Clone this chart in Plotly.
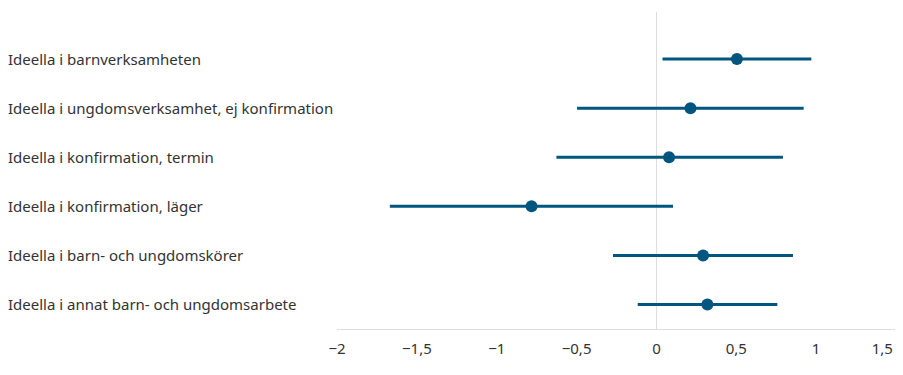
import plotly.graph_objects as go

categories = [
    "Ideella i barnverksamheten",
    "Ideella i ungdomsverksamhet, ej konfirmation",
    "Ideella i konfirmation, termin",
    "Ideella i konfirmation, läger",
    "Ideella i barn- och ungdomskörer",
    "Ideella i annat barn- och ungdomsarbete",
]
estimate = [0.504, 0.213, 0.079, -0.782, 0.292, 0.319]
ci_low = [0.038, -0.497, -0.626, -1.669, -0.272, -0.117]
ci_high = [0.970, 0.922, 0.792, 0.104, 0.855, 0.757]

tick_vals = [-2, -1.5, -1, -0.5, 0, 0.5, 1, 1.5]
tick_text = ["−2", "−1,5", "−1", "−0,5", "0", "0,5", "1", "1,5" + "\u00a0" * 7]

blue = "#00567f"
font = "Noto Sans, Open Sans, sans-serif"

fig = go.Figure()

fig.add_trace(
    go.Scatter(
        x=estimate,
        y=categories,
        mode="markers",
        marker=dict(size=12, color=blue),
        error_x=dict(
            type="data",
            symmetric=False,
            array=[h - e for h, e in zip(ci_high, estimate)],
            arrayminus=[e - l for e, l in zip(estimate, ci_low)],
            color=blue,
            thickness=3,
            width=0,
        ),
        showlegend=False,
    )
)

# kategorinamn vänsterställda längst till vänster
for cat in categories:
    fig.add_annotation(
        x=-331 / 559.5,
        xref="paper",
        y=cat,
        yref="y",
        text=cat,
        showarrow=False,
        xanchor="left",
        font=dict(size=15, color="#333333", family=font),
    )

fig.update_layout(
    width=895,
    height=367,
    margin=dict(l=329, r=6.5, t=4, b=46),
    plot_bgcolor="white",
    paper_bgcolor="white",
    font=dict(family=font, size=15, color="#333333"),
    xaxis=dict(
        range=[-2, 1.5],
        tickvals=tick_vals,
        ticktext=tick_text,
        showgrid=False,
        zeroline=True,
        zerolinecolor="#dddddd",
        zerolinewidth=1,
        showline=True,
        linecolor="#dddddd",
        linewidth=1,
        ticks="",
        ticklabelstandoff=6,
        ticklabeloverflow="allow",
        automargin=False,
        tickfont=dict(size=15, color="#333333"),
    ),
    yaxis=dict(
        type="category",
        categoryorder="array",
        categoryarray=categories,
        range=[5.5, -0.96],
        showgrid=False,
        showticklabels=False,
        zeroline=False,
        showline=False,
        automargin=False,
    ),
)

fig.write_html("out.html")
